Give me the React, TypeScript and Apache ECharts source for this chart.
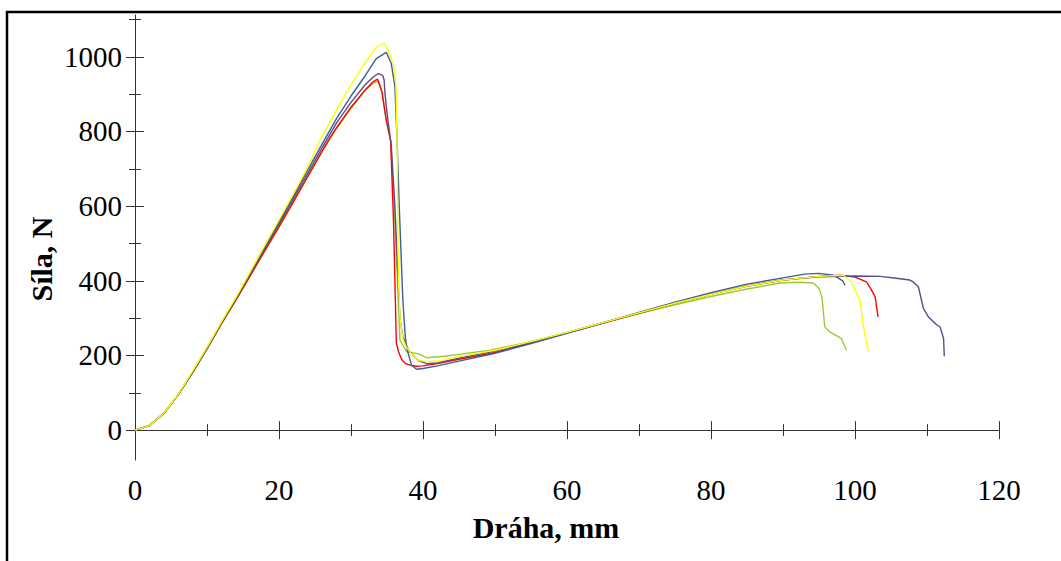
import React, { useEffect, useRef } from "react";
import * as echarts from "echarts";

// ---- Data (Dráha mm, Síla N) ----
const yellowX = [0, 2, 4, 6, 8, 10, 12, 14, 16, 18, 20, 22, 24, 25.7, 28, 30, 32, 33.5, 34.6, 35.0, 35.9, 36.25, 36.4, 36.5, 36.6, 36.8, 37.2, 37.6, 38.4, 39.3, 40.5, 42, 45, 50, 55, 60, 65, 70, 75, 80, 85, 90, 95, 98.4, 99.5, 100.7, 101.1, 101.85];
const yellowY = [0, 12, 45, 96, 158, 222, 290, 355, 424, 494, 563, 633, 705, 777, 858, 925, 985, 1025, 1037, 1022, 982, 920, 777, 560, 400, 300, 245, 225, 205, 188, 183, 185, 197, 214, 237, 262, 288, 314, 340, 364, 386, 402, 412, 415, 397, 348, 286, 210];

const blueX = [0, 2, 4, 6, 8, 10, 12, 14, 16, 18, 20, 22, 24, 26, 28, 30, 32, 33.5, 34.9, 35.6, 36.1, 36.4, 36.7, 36.9, 37.2, 37.5, 37.7, 38.4, 39.1, 40, 42, 45, 50, 55, 60, 65, 70, 75, 80, 85, 90, 93, 95, 97, 98.3, 98.6];
const blueY = [0, 12, 45, 95, 156, 220, 288, 352, 421, 490, 558, 627, 697, 767, 835, 895, 950, 995, 1012, 982, 920, 777, 600, 500, 350, 260, 223, 174, 163, 165, 172, 185, 206, 232, 259, 287, 315, 343, 368, 391, 408, 418, 420, 415, 400, 388];

const purpleX = [0, 2, 4, 6, 8, 10, 12, 14, 16, 18, 20, 22, 24, 26, 28, 30, 32, 33.2, 33.8, 34.4, 34.6, 34.7, 35.0, 35.6, 36.1, 36.5, 36.8, 37.2, 38, 39.3, 40.5, 42, 45, 50, 55, 60, 65, 70, 75, 80, 85, 90, 95, 100, 103.5, 106, 107.6, 108.1, 108.8, 109.5, 110.2, 111.3, 111.8, 112.3, 112.4];
const purpleY = [0, 12, 45, 95, 155, 219, 287, 350, 418, 486, 552, 620, 688, 757, 823, 878, 926, 948, 955, 950, 938, 906, 850, 760, 600, 420, 300, 250, 214, 187, 178, 180, 193, 212, 236, 261, 288, 314, 340, 364, 386, 402, 411, 413, 412, 406, 402, 397, 384, 326, 303, 283, 277, 246, 198];

const redX = [0, 2, 4, 6, 8, 10, 12, 14, 16, 18, 20, 22, 24, 26, 27, 28, 30, 32, 33, 33.7, 34.3, 34.9, 35.5, 35.9, 36.3, 36.6, 36.9, 37.2, 37.6, 38.2, 39, 40, 42, 45, 50, 55, 60, 65, 70, 75, 80, 85, 90, 95, 98, 100, 101.6, 102.3, 102.8, 103.2];
const redY = [0, 12, 45, 95, 155, 218, 285, 348, 414, 480, 545, 612, 680, 748, 780, 810, 865, 912, 932, 940, 906, 830, 777, 562, 233, 210, 195, 185, 178, 174, 171, 172, 178, 190, 208, 234, 260, 287, 313, 340, 365, 386, 402, 412, 415, 410, 397, 375, 357, 303];

const greenX = [0, 2, 4, 6, 8, 10, 12, 14, 16, 18, 20, 22, 24, 26, 27, 28, 30, 32, 33, 33.8, 34.3, 34.9, 35.5, 36.0, 36.4, 36.6, 36.8, 37.7, 39.3, 40.5, 43, 45, 49.3, 55, 60, 65, 70, 75, 80, 85, 89.6, 92, 94.2, 95, 95.4, 95.8, 96.5, 98.1, 98.8];
const greenY = [0, 12, 44, 94, 154, 217, 284, 347, 413, 479, 544, 611, 678, 745, 778, 808, 862, 910, 928, 935, 906, 830, 777, 600, 420, 330, 241, 210, 205, 194, 198, 203, 214, 237, 262, 287, 312, 336, 358, 378, 394, 396, 394, 380, 357, 277, 263, 246, 214];

const xTickLabels = [0, 20, 40, 60, 80, 100, 120];
const yMajorTicks = [0, 200, 400, 600, 800, 1000];
const yMinorTicks = [100, 300, 500, 700, 900, 1100];

const seriesDefs = [
  { name: "green", color: "#99CC33", xs: greenX, ys: greenY },
  { name: "red", color: "#FF0000", xs: redX, ys: redY },
  { name: "purple", color: "#5B4A8C", xs: purpleX, ys: purpleY },
  { name: "blue", color: "#3A5F9C", xs: blueX, ys: blueY },
  { name: "yellow", color: "#FFFF00", xs: yellowX, ys: yellowY },
];

const FONT = "Liberation Serif";

export default function App() {
  const ref = useRef<HTMLDivElement>(null);
  useEffect(() => {
    document.body.style.margin = "0";
    const chart = echarts.init(ref.current!, null, { renderer: "svg" });
    const axisColor = "#333";
    const fmt = (v: number) => String(Math.round(v));
    const xBase = {
      type: "value" as const,
      min: 0,
      max: 120,
      interval: 20,
      position: "bottom" as const,
      splitLine: { show: false },
    };
    const yBase = {
      type: "value" as const,
      min: -80,
      max: 1112,
      position: "left" as const,
      splitLine: { show: false },
    };
    chart.setOption({
      animation: false,
      backgroundColor: "#fff",
      grid: { left: 135, right: 62, top: 15, bottom: 101, containLabel: false },
      xAxis: [
        {
          ...xBase,
          axisLine: { show: true, lineStyle: { color: axisColor, width: 1 } },
          axisTick: { show: true, length: 9, inside: false, lineStyle: { color: axisColor } },
          minorTick: { show: true, splitNumber: 2, length: 6, lineStyle: { color: axisColor } },
          axisLabel: {
            show: true,
            fontSize: 29,
            fontFamily: FONT,
            color: "#000",
            margin: 15,
            formatter: fmt,
            customValues: xTickLabels,
          },
        },
        {
          ...xBase,
          axisLine: { show: false },
          axisTick: { show: true, length: 9, inside: true, lineStyle: { color: axisColor } },
          minorTick: { show: true, splitNumber: 2, length: 6, lineStyle: { color: axisColor } },
          axisLabel: { show: false },
        },
      ],
      yAxis: [
        {
          ...yBase,
          axisLine: { show: true, onZero: false, lineStyle: { color: axisColor, width: 1 } },
          axisTick: { show: true, length: 9, inside: false, customValues: yMajorTicks, lineStyle: { color: axisColor } },
          axisLabel: {
            show: true,
            fontSize: 29,
            fontFamily: FONT,
            color: "#000",
            margin: 13,
            padding: [8, 0, 0, 0],
            formatter: fmt,
            customValues: yMajorTicks,
          },
        },
        {
          ...yBase,
          axisLine: { show: false },
          axisTick: { show: true, length: 9, inside: true, customValues: yMajorTicks, lineStyle: { color: axisColor } },
          axisLabel: { show: false },
        },
        {
          ...yBase,
          axisLine: { show: false },
          axisTick: { show: true, length: 6, inside: false, customValues: yMinorTicks, lineStyle: { color: axisColor } },
          axisLabel: { show: false },
        },
        {
          ...yBase,
          axisLine: { show: false },
          axisTick: { show: true, length: 6, inside: true, customValues: yMinorTicks, lineStyle: { color: axisColor } },
          axisLabel: { show: false },
        },
      ],
      series: seriesDefs.map((s) => ({
        name: s.name,
        type: "line",
        xAxisIndex: 0,
        yAxisIndex: 0,
        showSymbol: false,
        symbol: "none",
        smooth: false,
        lineStyle: { color: s.color, width: 1.4 },
        data: s.xs.map((x, i) => [x, s.ys[i]]),
      })),
      graphic: [
        {
          type: "rect",
          shape: { x: 7, y: 12, width: 1200, height: 700 },
          style: { fill: "none", stroke: "#000", lineWidth: 2.5 },
          silent: true,
        },
        {
          type: "text",
          x: 546,
          y: 527,
          style: {
            text: "Dráha, mm",
            fontFamily: FONT,
            fontWeight: "bold",
            fontSize: 30,
            fill: "#000",
            align: "center",
            verticalAlign: "middle",
          },
        },
        {
          type: "text",
          x: 41,
          y: 259,
          rotation: Math.PI / 2,
          style: {
            text: "Síla, N",
            fontFamily: FONT,
            fontWeight: "bold",
            fontSize: 30,
            fill: "#000",
            align: "center",
            verticalAlign: "middle",
          },
        },
      ],
    });
    return () => chart.dispose();
  }, []);
  return (
    <div
      ref={ref}
      style={{ position: "fixed", left: 0, top: 0, width: 1061, height: 561 }}
    />
  );
}
